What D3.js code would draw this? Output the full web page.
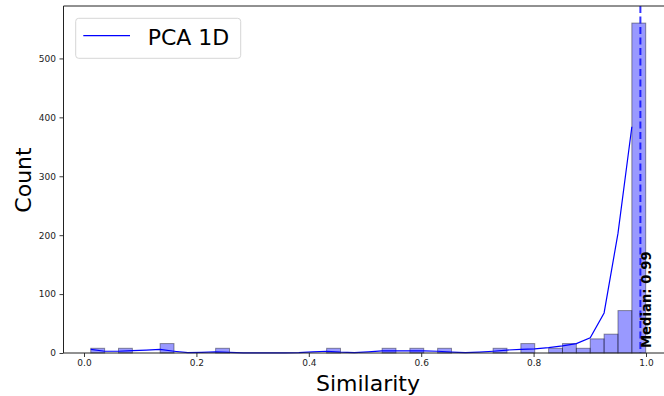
<!DOCTYPE html>
<html>
<head>
<meta charset="utf-8">
<script src="https://cdn.jsdelivr.net/npm/d3@7"></script>
<style>
  html, body { margin: 0; padding: 0; background: #fff; }
  svg { display: block; font-family: "DejaVu Sans", sans-serif; }
</style>
</head>
<body>
<svg id="chart" width="664" height="396"></svg>
<script>
// Histogram of similarity scores (40 equal bins) with the PCA 1D curve
const binRange = [0.012, 0.9995];
const binCounts = [8, 0, 8, 0, 0, 16, 0, 0, 0, 8,
                   0, 0, 0, 0, 0, 0, 0, 8, 0, 0,
                   0, 8, 0, 8, 0, 8, 0, 0, 0, 8,
                   0, 16, 0, 8, 16, 8, 24, 32, 72, 560];
// PCA 1D curve sampled at each bin's left edge
const pcaValues = [6, 3, 3, 4, 5, 6, 3, 0.5, 1, 2,
                   1, 0.3, 0.1, 0.1, 0.2, 0.8, 2, 3, 1.5, 0.8,
                   2, 3.5, 3.5, 3.5, 3.5, 3, 1.5, 0.5, 1.5, 3,
                   5, 6, 7, 9, 12, 16, 26, 68, 203, 384];
const medianValue = 0.99;
const xTicks = [0.0, 0.2, 0.4, 0.6, 0.8, 1.0];
const yTicks = [0, 100, 200, 300, 400, 500];
const xDomain = [-0.0365, 1.049];
const yDomain = [0, 589];

const svg = d3.select("#chart");
const plot = { left: 63.5, top: 6, bottom: 353 };
const x = d3.scaleLinear().domain(xDomain).range([plot.left, 84 + 1.049 * 562]);
const y = d3.scaleLinear().domain(yDomain).range([plot.bottom, plot.top]);

const nBins = binCounts.length;
const binWidth = (binRange[1] - binRange[0]) / nBins;
const bins = binCounts.map((c, i) => ({ x0: binRange[0] + i * binWidth, x1: binRange[0] + (i + 1) * binWidth, count: c }));

// bars
svg.append("g").selectAll("rect")
  .data(bins.filter(d => d.count > 0))
  .join("rect")
  .attr("x", d => x(d.x0))
  .attr("y", d => y(d.count))
  .attr("width", d => x(d.x1) - x(d.x0))
  .attr("height", d => y(0) - y(d.count))
  .attr("fill", "#0000ff").attr("fill-opacity", 0.4)
  .attr("stroke", "#000").attr("stroke-opacity", 0.4).attr("stroke-width", 1);

// PCA 1D curve
const line = d3.line().x((d, i) => x(bins[i].x0)).y(d => y(d));
svg.append("path")
  .datum(pcaValues)
  .attr("d", line)
  .attr("fill", "none")
  .attr("stroke", "#0000ff")
  .attr("stroke-width", 1.2);

// median marker
svg.append("line")
  .attr("x1", x(medianValue)).attr("x2", x(medianValue))
  .attr("y1", plot.top).attr("y2", plot.bottom)
  .attr("stroke", "#0000ff").attr("stroke-opacity", 0.8)
  .attr("stroke-width", 2).attr("stroke-dasharray", "7,3.5");

svg.append("text")
  .attr("transform", `translate(${x(medianValue) + 11},348) rotate(-90)`)
  .attr("font-size", 13.2).attr("font-weight", "bold").attr("fill", "#000")
  .text(`Median: ${medianValue.toFixed(2)}`);

// axes
const xAxis = d3.axisBottom(x).tickValues(xTicks).tickFormat(d3.format(".1f")).tickSize(4).tickPadding(3);
const yAxis = d3.axisLeft(y).tickValues(yTicks).tickFormat(d3.format("d")).tickSize(4).tickPadding(3.5);

const gx = svg.append("g").attr("transform", `translate(0,${plot.bottom})`).call(xAxis);
const gy = svg.append("g").attr("transform", `translate(${plot.left},0)`).call(yAxis);
[gx, gy].forEach(g => {
  g.select(".domain").remove();
  g.selectAll(".tick line").attr("stroke", "#222").attr("stroke-width", 0.9);
  g.selectAll(".tick text").attr("font-size", 9).attr("fill", "#222").attr("font-family", "DejaVu Sans");
});

// spines
svg.append("line").attr("x1", plot.left).attr("x2", 664).attr("y1", plot.bottom).attr("y2", plot.bottom).attr("stroke", "#222");
svg.append("line").attr("x1", plot.left).attr("x2", 664).attr("y1", plot.top).attr("y2", plot.top).attr("stroke", "#222");
svg.append("line").attr("x1", plot.left).attr("x2", plot.left).attr("y1", plot.top).attr("y2", plot.bottom).attr("stroke", "#222");

// axis titles
svg.append("text").attr("x", 368).attr("y", 391).attr("text-anchor", "middle")
  .attr("font-size", 22).attr("fill", "#000").text("Similarity");
svg.append("text").attr("transform", "translate(31,180) rotate(-90)").attr("text-anchor", "middle")
  .attr("font-size", 22).attr("fill", "#000").text("Count");

// legend
const lg = svg.append("g");
lg.append("rect").attr("x", 75.7).attr("y", 18.3).attr("width", 165).attr("height", 40).attr("rx", 3)
  .attr("fill", "#fff").attr("fill-opacity", 0.8).attr("stroke", "#d6d6d6").attr("stroke-width", 1);
lg.append("line").attr("x1", 83.3).attr("x2", 130).attr("y1", 35.7).attr("y2", 35.7)
  .attr("stroke", "#0000ff").attr("stroke-width", 1.2);
lg.append("text").attr("x", 147.7).attr("y", 44.5).attr("font-size", 22).attr("fill", "#000").text("PCA 1D");
</script>
</body>
</html>
